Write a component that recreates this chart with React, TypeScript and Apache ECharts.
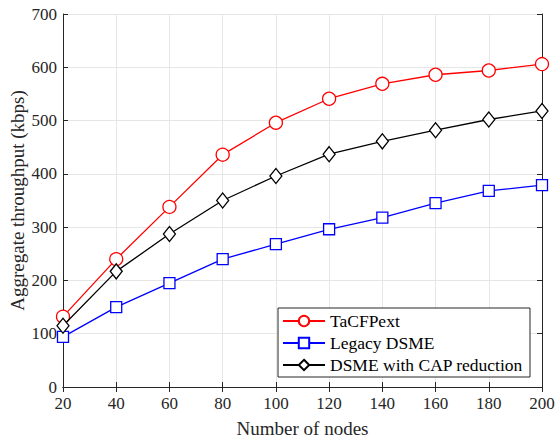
import React, { useEffect, useRef } from "react";
import * as echarts from "echarts";

const nodes = [20, 40, 60, 80, 100, 120, 140, 160, 180, 200];
const tacfpext = [132, 240, 338, 436, 496, 541, 569, 586, 594, 606];
const legacyDsme = [94, 150, 195, 240, 268, 296, 318, 345, 368, 379];
const dsmeCap = [115, 217, 287, 350, 396, 437, 461, 482, 502, 518];
const yTicks = [0, 100, 200, 300, 400, 500, 600, 700];

const FONT = "Liberation Serif";

export default function App() {
  const ref = useRef<HTMLDivElement>(null);
  useEffect(() => {
    const chart = echarts.init(ref.current!, null, { renderer: "svg" });
    const pair = (v: number[]) => nodes.map((x, i) => [x, v[i]]);
    const axisCommon = {
      axisLine: { show: true, lineStyle: { color: "#262626", width: 1 } },
      axisTick: { show: true, inside: true, length: 5, lineStyle: { color: "#262626" } },
    };
    chart.setOption({
      animation: false,
      backgroundColor: "#fff",
      grid: { left: 63, right: 13, top: 14, bottom: 54, containLabel: false, outerBoundsMode: "none" },
      xAxis: [
        {
          type: "value",
          min: 20,
          max: 200,
          interval: 20,
          position: "bottom",
          ...axisCommon,
          axisLabel: { color: "#262626", fontFamily: FONT, fontSize: 17, margin: 8 },
          splitLine: { show: true, lineStyle: { color: "#e6e6e6", width: 1 } },
          name: "Number of nodes",
          nameLocation: "middle",
          nameGap: 32,
          nameMoveOverlap: false,
          nameTextStyle: { color: "#262626", fontFamily: FONT, fontSize: 19 },
        },
        {
          type: "value",
          min: 20,
          max: 200,
          interval: 20,
          position: "top",
          ...axisCommon,
          axisLabel: { show: false },
          splitLine: { show: false },
        },
      ],
      yAxis: [
        {
          type: "value",
          min: 0,
          max: 700,
          interval: 100,
          position: "left",
          ...axisCommon,
          axisLabel: {
            color: "#262626",
            fontFamily: FONT,
            fontSize: 17,
            margin: 6,
            formatter: (v: number) => (yTicks.includes(v) ? String(v) : ""),
          },
          splitLine: { show: true, lineStyle: { color: "#e6e6e6", width: 1 } },
          name: "Aggregate throughput (kbps)",
          nameLocation: "middle",
          nameGap: 36,
          nameMoveOverlap: false,
          nameTextStyle: { color: "#262626", fontFamily: FONT, fontSize: 19 },
        },
        {
          type: "value",
          min: 0,
          max: 700,
          interval: 100,
          position: "right",
          ...axisCommon,
          axisLabel: { show: false },
          splitLine: { show: false },
        },
      ],
      legend: {
        orient: "vertical",
        left: 278,
        top: 308,
        backgroundColor: "#fff",
        borderColor: "#262626",
        borderWidth: 1,
        borderRadius: 0,
        padding: [4, 7, 3, 4],
        itemWidth: 42,
        itemHeight: 13,
        itemGap: 4,
        textStyle: { color: "#000", fontFamily: FONT, fontSize: 17.5, padding: [0, 0, 0, 0] },
        data: ["TaCFPext", "Legacy DSME", "DSME with CAP reduction"],
      },
      series: [
        {
          name: "TaCFPext",
          type: "line",
          data: pair(tacfpext),
          symbol: "circle",
          symbolSize: 13,
          color: "#ff0000",
          lineStyle: { color: "#ff0000", width: 1.3 },
          itemStyle: { color: "#fff", borderColor: "#ff0000", borderWidth: 1.3 },
          z: 3,
        },
        {
          name: "Legacy DSME",
          type: "line",
          data: pair(legacyDsme),
          symbol: "rect",
          symbolSize: 11,
          color: "#0000ff",
          lineStyle: { color: "#0000ff", width: 1.3 },
          itemStyle: { color: "#fff", borderColor: "#0000ff", borderWidth: 1.3 },
          z: 2,
        },
        {
          name: "DSME with CAP reduction",
          type: "line",
          data: pair(dsmeCap),
          symbol: "diamond",
          symbolSize: [12, 15],
          color: "#000",
          lineStyle: { color: "#000", width: 1.3 },
          itemStyle: { color: "#fff", borderColor: "#000", borderWidth: 1.3 },
          z: 4,
        },
      ],
    });
    return () => chart.dispose();
  }, []);
  return <div ref={ref} style={{ width: 555, height: 441, position: "absolute", left: 0, top: 0 }} />;
}
